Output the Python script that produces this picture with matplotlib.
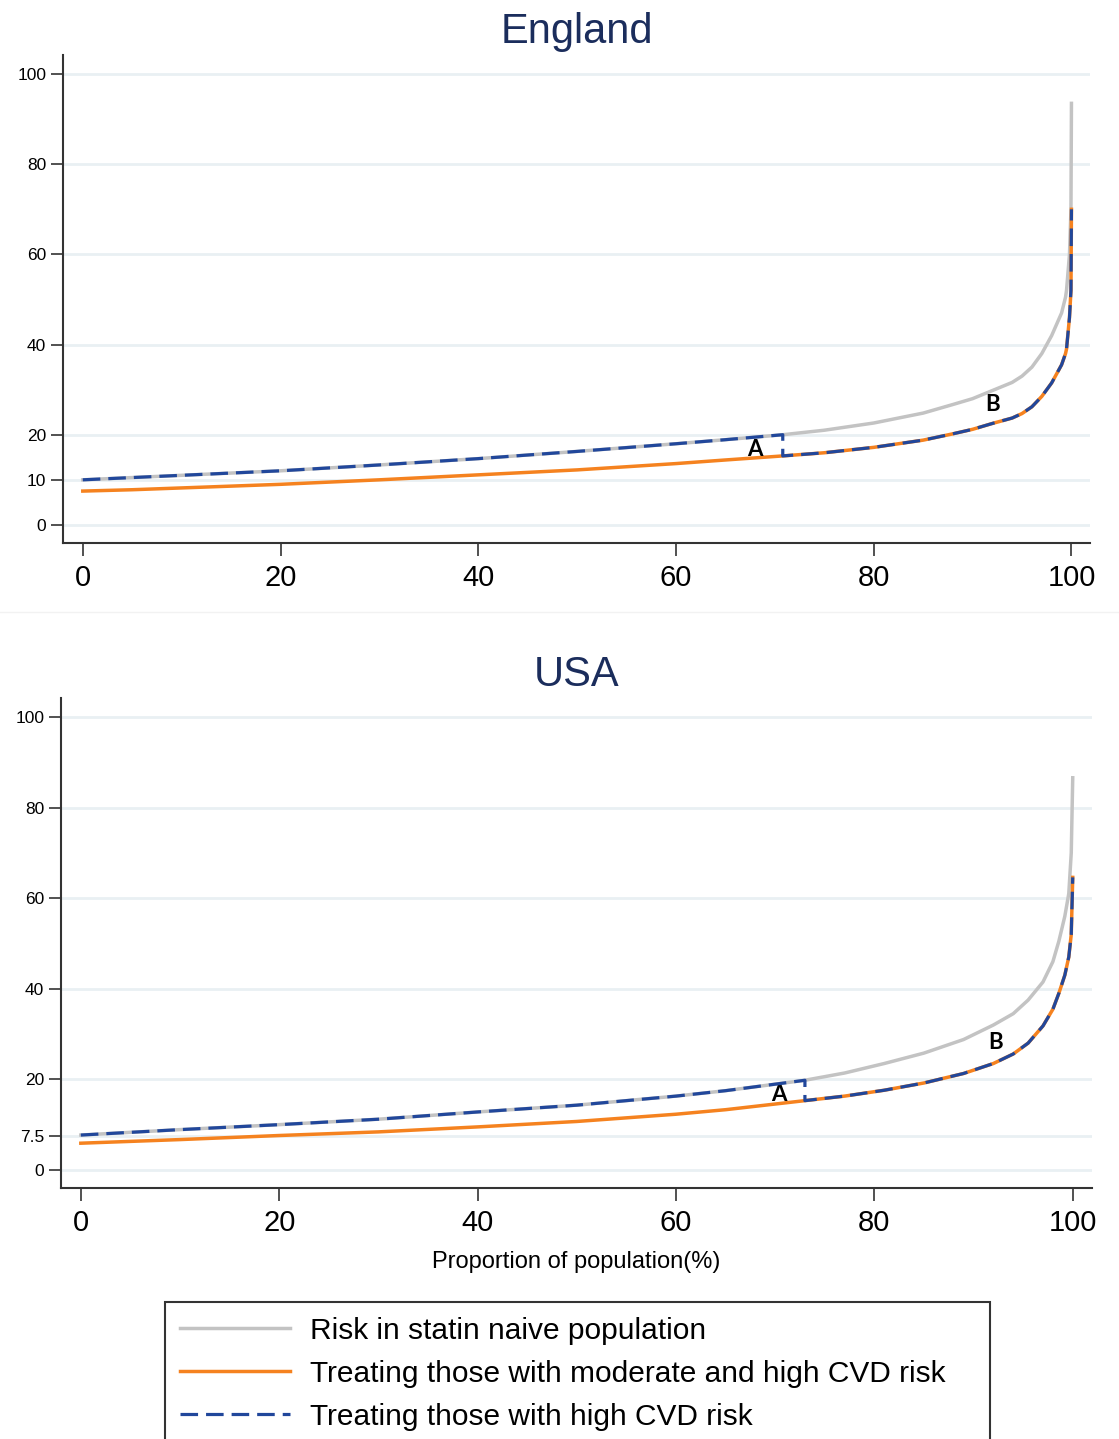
import matplotlib
matplotlib.use("Agg")
import matplotlib.pyplot as plt
import numpy as np
from matplotlib.lines import Line2D

plt.rcParams["font.family"] = ["Liberation Sans", "DejaVu Sans"]

# England: percentile of population vs 10-year CVD risk
eng_pct = [0, 5, 10, 20, 30, 40, 50, 60, 65, 70.8, 75, 80, 85, 88, 90, 92, 94, 95, 96, 97,
           98, 98.5, 99, 99.4, 99.5, 99.8, 99.95, 100]
eng_naive = [10.0, 10.5, 11.0, 12.0, 13.3, 14.7, 16.3, 18.0, 18.9, 20.0, 21.0, 22.6, 24.8, 26.7,
             28.0, 29.8, 31.6, 33.0, 35.0, 38.0, 42.0, 44.5, 47.0, 50.5, 52.0, 60.0, 70.0, 93.5]
eng_treated = [7.5, 7.8, 8.2, 9.0, 10.0, 11.1, 12.2, 13.6, 14.4, 15.3, 16.0, 17.2, 18.8, 20.2,
               21.2, 22.5, 23.7, 24.7, 26.2, 28.5, 31.5, 33.5, 35.5, 38.0, 39.0, 46.0, 52.0, 70.0]
eng_cut = 70.8
eng_ticks = [0, 10, 20, 40, 60, 80, 100]

# USA
usa_pct = [0, 5, 10, 20, 30, 40, 50, 60, 65, 73, 77, 81, 85, 89, 92, 94, 95.5, 97, 98, 98.6,
           99.2, 99.6, 99.85, 100]
usa_naive = [7.7, 8.3, 8.9, 10.0, 11.2, 12.8, 14.3, 16.3, 17.5, 19.8, 21.4, 23.5, 25.8, 28.8,
             32.0, 34.5, 37.5, 41.5, 46.0, 50.5, 56.0, 61.0, 70.0, 86.6]
usa_treated = [5.9, 6.3, 6.7, 7.6, 8.4, 9.5, 10.7, 12.3, 13.3, 15.3, 16.3, 17.6, 19.2, 21.3,
               23.5, 25.6, 28.0, 31.8, 35.5, 39.0, 43.0, 47.0, 52.0, 64.6]
usa_cut = 73
usa_ticks = [0, 7.5, 20, 40, 60, 80, 100]

x_ticks = [0, 20, 40, 60, 80, 100]
labels = ["Risk in statin naive population",
          "Treating those with moderate and high CVD risk",
          "Treating those with high CVD risk"]

GREY = "#c3c3c3"
ORANGE = "#f5821f"
BLUE = "#21479b"
NAVY = "#1b2d5c"


def draw_panel(ax, pct, naive, treated, cut, yticks, title, a_pos, b_pos):
    pct = np.asarray(pct)
    naive = np.asarray(naive)
    treated = np.asarray(treated)
    i = int(np.where(pct == cut)[0][0])
    # high-risk-only strategy: untreated below the cut, treated above
    hx = np.concatenate([pct[:i + 1], pct[i:]])
    hy = np.concatenate([naive[:i + 1], treated[i:]])

    for t in yticks:
        ax.axhline(t, color="#e9f0f3", lw=2, zorder=0)
    g, = ax.plot(pct, naive, color=GREY, lw=2.5, zorder=2)
    o, = ax.plot(pct, treated, color=ORANGE, lw=2.5, zorder=3)
    b, = ax.plot(hx, hy, color=BLUE, lw=2.3, dashes=(5.5, 2.5), zorder=4)

    for pos, s in [(a_pos, "A"), (b_pos, "B")]:
        ax.text(*pos, s, fontsize=16, fontweight="bold", family=["Lato", "DejaVu Sans"],
                ha="center", va="center")

    ax.set_xlim(-2, 101.9)
    ax.set_ylim(-4, 104.2)
    ax.set_yticks(yticks)
    ax.set_yticklabels([("%g" % t) for t in yticks], fontsize=12.5)
    ax.set_xticks(x_ticks)
    ax.tick_params(axis="x", labelsize=21, length=9, width=1.2, color="#333333", pad=6)
    ax.tick_params(axis="y", length=9, width=1.2, color="#333333", pad=3)
    for s in ["top", "right"]:
        ax.spines[s].set_visible(False)
    for s in ["left", "bottom"]:
        ax.spines[s].set_color("#333333")
        ax.spines[s].set_linewidth(1.5)
    ax.set_title(title, fontsize=30, color=NAVY, pad=9)
    return g, o, b


fig = plt.figure(figsize=(11.19, 14.39), dpi=100)
ax1 = fig.add_axes([0.0563, 0.6227, 0.918, 0.339])
ax2 = fig.add_axes([0.0545, 0.1744, 0.921, 0.3405])

draw_panel(ax1, eng_pct, eng_naive, eng_treated, eng_cut, eng_ticks, "England", (68.0, 16.7), (92.0, 26.7))
handles = draw_panel(ax2, usa_pct, usa_naive, usa_treated, usa_cut, usa_ticks, "USA", (70.4, 16.7), (92.2, 28.2))
ax2.set_xlabel("Proportion of population(%)", fontsize=17, labelpad=10)

fig.add_artist(Line2D([0, 1], [1 - 612 / 1439] * 2, color="#f2f2f2", lw=1))

leg = fig.legend(handles, labels, loc="upper left",
                 bbox_to_anchor=(165 / 1119, 1 - 1302 / 1439, 825 / 1119, 0), mode="expand",
                 fontsize=21.5, handlelength=3.7, handletextpad=0.65, labelspacing=0.5,
                 borderpad=0.5, fancybox=False, frameon=True, borderaxespad=0)
leg.get_frame().set_edgecolor("black")
leg.get_frame().set_linewidth(1.5)

fig.savefig("out.png", dpi=100)
